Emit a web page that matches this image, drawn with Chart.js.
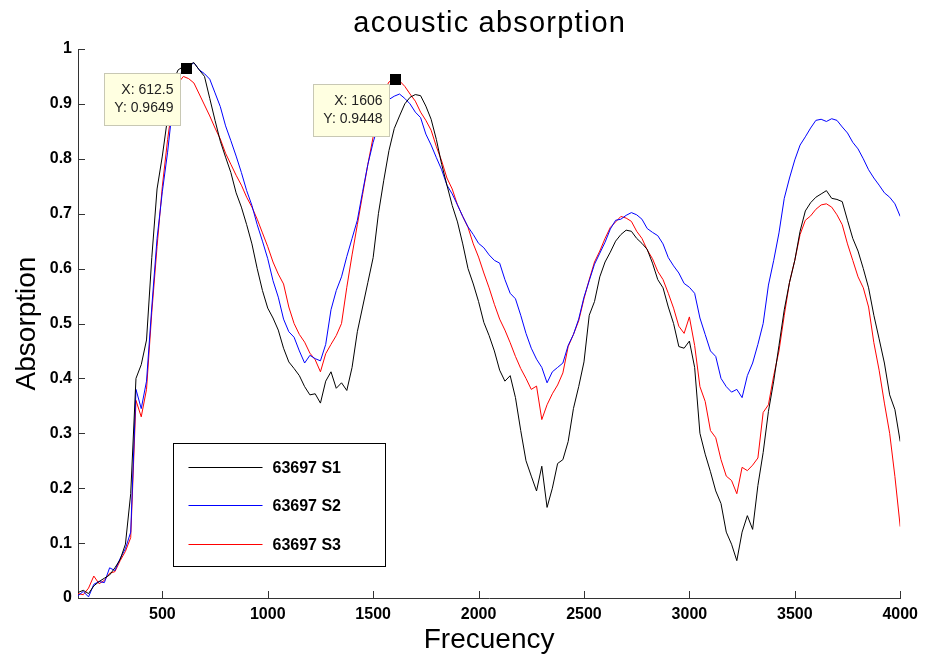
<!DOCTYPE html>
<html>
<head>
<meta charset="utf-8">
<title>acoustic absorption</title>
<script src="https://cdn.jsdelivr.net/npm/chart.js@4.4.0/dist/chart.umd.min.js"></script>
<style>
  body { margin: 0; background: #fff; }
  canvas { display: block; }
</style>
</head>
<body>
<canvas id="absChart" width="925" height="658"></canvas>
<script>
// frequency samples (Hz)
const freq = [
  100, 125, 150, 175, 200, 225, 250, 275,
  300, 325, 350, 375, 400, 425, 450, 475,
  500, 525, 550, 575, 600, 625, 650, 675,
  700, 725, 750, 775, 800, 825, 850, 875,
  900, 925, 950, 975, 1000, 1025, 1050, 1075,
  1100, 1125, 1150, 1175, 1200, 1225, 1250, 1275,
  1300, 1325, 1350, 1375, 1400, 1425, 1450, 1475,
  1500, 1525, 1550, 1575, 1600, 1625, 1650, 1675,
  1700, 1725, 1750, 1775, 1800, 1825, 1850, 1875,
  1900, 1925, 1950, 1975, 2000, 2025, 2050, 2075,
  2100, 2125, 2150, 2175, 2200, 2225, 2250, 2275,
  2300, 2325, 2350, 2375, 2400, 2425, 2450, 2475,
  2500, 2525, 2550, 2575, 2600, 2625, 2650, 2675,
  2700, 2725, 2750, 2775, 2800, 2825, 2850, 2875,
  2900, 2925, 2950, 2975, 3000, 3025, 3050, 3075,
  3100, 3125, 3150, 3175, 3200, 3225, 3250, 3275,
  3300, 3325, 3350, 3375, 3400, 3425, 3450, 3475,
  3500, 3525, 3550, 3575, 3600, 3625, 3650, 3675,
  3700, 3725, 3750, 3775, 3800, 3825, 3850, 3875,
  3900, 3925, 3950, 3975, 4000
];

// 63697 S1
const s1 = [
  0.010, 0.014, 0.008, 0.022, 0.030, 0.036, 0.042, 0.055,
  0.070, 0.098, 0.190, 0.400, 0.425, 0.470, 0.620, 0.745,
  0.805, 0.875, 0.940, 0.962, 0.968, 0.972, 0.975, 0.962,
  0.950, 0.910, 0.870, 0.832, 0.803, 0.775, 0.738, 0.712,
  0.680, 0.645, 0.600, 0.560, 0.528, 0.510, 0.488, 0.455,
  0.430, 0.418, 0.405, 0.385, 0.370, 0.372, 0.355, 0.395,
  0.412, 0.382, 0.392, 0.378, 0.420, 0.485, 0.530, 0.575,
  0.620, 0.700, 0.760, 0.815, 0.855, 0.878, 0.900, 0.912,
  0.917, 0.915, 0.896, 0.872, 0.835, 0.790, 0.752, 0.715,
  0.685, 0.645, 0.600, 0.572, 0.540, 0.502, 0.478, 0.450,
  0.415, 0.395, 0.405, 0.365, 0.305, 0.250, 0.222, 0.195,
  0.240, 0.165, 0.200, 0.245, 0.252, 0.285, 0.345, 0.385,
  0.430, 0.515, 0.540, 0.585, 0.612, 0.630, 0.650, 0.662,
  0.670, 0.668, 0.655, 0.646, 0.635, 0.610, 0.580, 0.565,
  0.530, 0.500, 0.458, 0.455, 0.468, 0.420, 0.300, 0.262,
  0.230, 0.195, 0.172, 0.120, 0.098, 0.068, 0.120, 0.150,
  0.125, 0.205, 0.265, 0.340, 0.395, 0.460, 0.525, 0.575,
  0.615, 0.668, 0.705, 0.720, 0.730, 0.736, 0.742, 0.728,
  0.726, 0.722, 0.688, 0.655, 0.632, 0.600, 0.565, 0.515,
  0.472, 0.428, 0.370, 0.343, 0.285
];

// 63697 S2
const s2 = [
  0.004, 0.012, 0.002, 0.025, 0.030, 0.028, 0.055, 0.050,
  0.072, 0.090, 0.120, 0.380, 0.345, 0.395, 0.530, 0.655,
  0.740, 0.812, 0.900, 0.945, 0.965, 0.968, 0.975, 0.962,
  0.955, 0.945, 0.920, 0.895, 0.860, 0.833, 0.805, 0.775,
  0.742, 0.715, 0.680, 0.650, 0.618, 0.578, 0.548, 0.508,
  0.485, 0.475, 0.450, 0.428, 0.442, 0.436, 0.432, 0.462,
  0.525, 0.560, 0.585, 0.622, 0.655, 0.688, 0.740, 0.790,
  0.830, 0.862, 0.895, 0.908, 0.914, 0.918, 0.910, 0.900,
  0.885, 0.875, 0.845, 0.825, 0.802, 0.780, 0.752, 0.736,
  0.716, 0.695, 0.676, 0.662, 0.646, 0.638, 0.625, 0.615,
  0.610, 0.580, 0.555, 0.545, 0.515, 0.482, 0.455, 0.435,
  0.420, 0.392, 0.412, 0.420, 0.428, 0.460, 0.480, 0.508,
  0.548, 0.578, 0.608, 0.628, 0.648, 0.672, 0.688, 0.690,
  0.697, 0.702, 0.698, 0.690, 0.673, 0.666, 0.660, 0.645,
  0.620, 0.605, 0.592, 0.573, 0.566, 0.555, 0.510, 0.480,
  0.450, 0.440, 0.400, 0.385, 0.375, 0.380, 0.365, 0.405,
  0.428, 0.462, 0.500, 0.570, 0.615, 0.665, 0.728, 0.765,
  0.798, 0.825, 0.840, 0.856, 0.870, 0.872, 0.868, 0.873,
  0.870, 0.858, 0.847, 0.830, 0.818, 0.800, 0.780, 0.765,
  0.752, 0.738, 0.730, 0.718, 0.695
];

// 63697 S3
const s3 = [
  0.008, 0.006, 0.018, 0.040, 0.026, 0.032, 0.045, 0.048,
  0.068, 0.085, 0.110, 0.360, 0.330, 0.380, 0.520, 0.640,
  0.750, 0.835, 0.905, 0.938, 0.950, 0.946, 0.938, 0.918,
  0.898, 0.878, 0.856, 0.836, 0.810, 0.790, 0.770, 0.752,
  0.730, 0.712, 0.690, 0.665, 0.640, 0.612, 0.590, 0.572,
  0.530, 0.500, 0.480, 0.466, 0.446, 0.434, 0.412, 0.445,
  0.462, 0.478, 0.500, 0.566, 0.625, 0.680, 0.735, 0.790,
  0.840, 0.888, 0.922, 0.940, 0.945, 0.942, 0.932, 0.918,
  0.905, 0.885, 0.870, 0.852, 0.822, 0.796, 0.765, 0.745,
  0.716, 0.695, 0.675, 0.645, 0.621, 0.592, 0.565, 0.535,
  0.508, 0.488, 0.465, 0.440, 0.418, 0.400, 0.380, 0.386,
  0.325, 0.352, 0.372, 0.388, 0.410, 0.458, 0.480, 0.505,
  0.545, 0.580, 0.612, 0.632, 0.655, 0.675, 0.685, 0.695,
  0.692, 0.686, 0.668, 0.655, 0.634, 0.618, 0.595, 0.580,
  0.555, 0.528, 0.495, 0.482, 0.512, 0.460, 0.385, 0.358,
  0.305, 0.292, 0.252, 0.222, 0.214, 0.190, 0.238, 0.232,
  0.242, 0.255, 0.338, 0.352, 0.405, 0.450, 0.515, 0.575,
  0.615, 0.662, 0.688, 0.696, 0.708, 0.716, 0.718, 0.712,
  0.698, 0.680, 0.645, 0.615, 0.585, 0.565, 0.530, 0.465,
  0.415, 0.355, 0.300, 0.221, 0.130
];

const seriesNames = ['63697 S1', '63697 S2', '63697 S3'];
const seriesColors = ['#000000', '#0000ff', '#ff0000'];
const xTicks = [500, 1000, 1500, 2000, 2500, 3000, 3500, 4000];
const yTicks = [0, 0.1, 0.2, 0.3, 0.4, 0.5, 0.6, 0.7, 0.8, 0.9, 1];

// data cursor tips
const tipX = [612.5, 1606];
const tipY = [0.9649, 0.9448];

const FONT = '"Liberation Sans", Arial, Helvetica, sans-serif';

function toPoints(vals) {
  return freq.map((f, i) => ({ x: f, y: vals[i] }));
}

const extras = {
  id: 'extras',
  afterDatasetsDraw(chart) {
    const { ctx, chartArea, scales } = chart;
    const xs = scales.x, ys = scales.y;
    ctx.save();

    // inward tick marks
    ctx.strokeStyle = '#333';
    ctx.lineWidth = 1;
    ctx.beginPath();
    xs.ticks.forEach(t => {
      const px = Math.round(xs.getPixelForValue(t.value)) + 0.5;
      ctx.moveTo(px, chartArea.bottom);
      ctx.lineTo(px, chartArea.bottom - 7);
    });
    ys.ticks.forEach(t => {
      const py = Math.round(ys.getPixelForValue(t.value)) + 0.5;
      ctx.moveTo(chartArea.left, py);
      ctx.lineTo(chartArea.left + 7, py);
    });
    ctx.stroke();

    // data tips
    for (let i = 0; i < tipX.length; i++) {
      const px = xs.getPixelForValue(tipX[i]);
      const py = ys.getPixelForValue(tipY[i]);
      const bw = 76, bh = 52;
      const bx = Math.round(px - 6 - bw) + 0.5;
      const by = Math.round(py + 5) + 0.5;
      ctx.fillStyle = '#ffffe1';
      ctx.strokeStyle = '#c8c8b4';
      ctx.fillRect(bx, by, bw, bh);
      ctx.strokeRect(bx, by, bw, bh);
      ctx.fillStyle = '#222';
      ctx.font = '14px ' + FONT;
      ctx.textAlign = 'right';
      ctx.textBaseline = 'middle';
      ctx.fillText('X: ' + tipX[i], bx + bw - 7, by + 17);
      ctx.fillText('Y: ' + tipY[i].toFixed(4), bx + bw - 7, by + 35);
      ctx.fillStyle = '#000';
      ctx.fillRect(Math.round(px - 5.5), Math.round(py - 5.5), 11, 11);
    }

    // legend box
    const lx = Math.round(chartArea.left + 95) + 0.5;
    const ly = Math.round(chartArea.top + 394) + 0.5;
    const lw = 212, lh = 123;
    ctx.fillStyle = '#fff';
    ctx.fillRect(lx, ly, lw, lh);
    ctx.strokeStyle = '#000';
    ctx.lineWidth = 1;
    ctx.strokeRect(lx, ly, lw, lh);
    ctx.font = 'bold 16px ' + FONT;
    ctx.textAlign = 'left';
    ctx.textBaseline = 'middle';
    const rows = [23, 61, 100];
    seriesNames.forEach((name, i) => {
      const ry = Math.round(ly + rows[i]) + 0.5;
      ctx.beginPath();
      ctx.strokeStyle = seriesColors[i];
      ctx.lineWidth = 1;
      ctx.moveTo(lx + 15, ry);
      ctx.lineTo(lx + 89, ry);
      ctx.stroke();
      ctx.fillStyle = '#000';
      ctx.fillText(name, lx + 99, ry + 1);
    });

    // chart title (slightly spaced, like the original)
    ctx.fillStyle = '#000';
    ctx.font = '29px ' + FONT;
    ctx.letterSpacing = '1.2px';
    ctx.textAlign = 'center';
    ctx.textBaseline = 'alphabetic';
    ctx.fillText('acoustic absorption', (chartArea.left + chartArea.right) / 2 + 0.6, 32);

    ctx.restore();
  }
};

new Chart(document.getElementById('absChart'), {
  type: 'line',
  data: {
    datasets: [s1, s2, s3].map((vals, i) => ({
      label: seriesNames[i],
      data: toPoints(vals),
      borderColor: seriesColors[i],
      backgroundColor: seriesColors[i],
      borderWidth: 1,
      pointRadius: 0,
      tension: 0,
      fill: false
    }))
  },
  options: {
    responsive: false,
    animation: false,
    layout: { padding: { left: 0, right: 21, top: 49, bottom: 0 } },
    plugins: {
      legend: { display: false },
      tooltip: { enabled: false },
      title: { display: false }
    },
    scales: {
      x: {
        type: 'linear',
        min: 100,
        max: 4000,
        afterBuildTicks: s => { s.ticks = xTicks.map(v => ({ value: v })); },
        afterFit: s => { s.height = 60; },
        grid: { drawOnChartArea: false, drawTicks: false },
        border: { color: '#333' },
        ticks: {
          color: '#000',
          padding: 7,
          maxRotation: 0,
          autoSkip: false,
          font: { family: FONT, size: 16, weight: 'bold' },
          callback: v => String(v)
        },
        title: {
          display: true,
          text: 'Frecuency',
          color: '#000',
          font: { family: FONT, size: 28 },
          padding: { top: 0, bottom: 1 }
        }
      },
      y: {
        min: 0,
        max: 1,
        afterBuildTicks: s => { s.ticks = yTicks.map(v => ({ value: v })); },
        afterFit: s => { s.width = 78; },
        grid: { drawOnChartArea: false, drawTicks: false },
        border: { color: '#333' },
        ticks: {
          color: '#000',
          padding: 6,
          font: { family: FONT, size: 16, weight: 'bold' },
          callback: v => String(Math.round(v * 10) / 10)
        },
        title: {
          display: true,
          text: 'Absorption',
          color: '#000',
          font: { family: FONT, size: 28 },
          padding: { top: 10, bottom: 0 }
        }
      }
    }
  },
  plugins: [extras]
});
</script>
</body>
</html>
